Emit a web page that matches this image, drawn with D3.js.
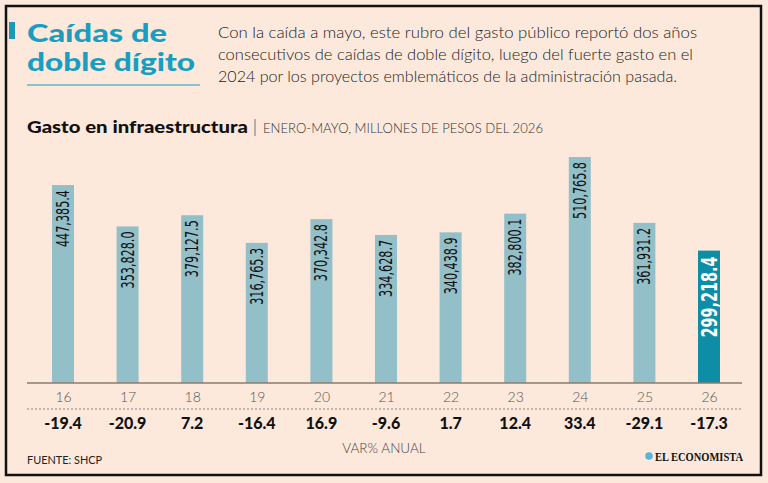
<!DOCTYPE html>
<html><head><meta charset="utf-8">
<script src="https://cdn.jsdelivr.net/npm/d3@7"></script>
<style>
html,body{margin:0;padding:0;background:#fce9dc;}
svg{display:block;}
</style></head>
<body>
<script>
const years = ["16","17","18","19","20","21","22","23","24","25","26"];
const values = [447385.4, 353828.0, 379127.5, 316765.3, 370342.8, 334628.7, 340438.9, 382800.1, 510765.8, 361931.2, 299218.4];
const varAnual = ["-19.4","-20.9","7.2","-16.4","16.9","-9.6","1.7","12.4","33.4","-29.1","-17.3"];
const subtitleLines = [
  "Con la caída a mayo, este rubro del gasto público reportó dos años",
  "consecutivos de caídas de doble dígito, luego del fuerte gasto en el",
  "2024 por los proyectos emblemáticos de la administración pasada."
];

const W = 768, H = 483;
const svg = d3.select("body").append("svg").attr("width", W).attr("height", H);
svg.append("rect").attr("width", W).attr("height", H).attr("fill", "#fce9dc");
svg.append("rect").attr("x", 6).attr("y", 6).attr("width", 755).attr("height", 469)
  .attr("fill", "#fce9dc").attr("stroke", "#111").attr("stroke-width", 2.5);

// Title
svg.append("rect").attr("x", 9).attr("y", 22).attr("width", 6).attr("height", 17).attr("fill", "#1a9ab8");
const tFont = "'Lato','Open Sans',sans-serif";
svg.append("text").attr("x", 27).attr("y", 42).text("Caídas de")
  .attr("font-family", tFont).attr("font-weight", 900).attr("font-size", 25).attr("fill", "#1a9ebf")
  .attr("textLength", 140).attr("lengthAdjust", "spacingAndGlyphs");
svg.append("text").attr("x", 27).attr("y", 71).text("doble dígito")
  .attr("font-family", tFont).attr("font-weight", 900).attr("font-size", 25).attr("fill", "#1a9ebf")
  .attr("textLength", 168).attr("lengthAdjust", "spacingAndGlyphs");
svg.append("line").attr("x1", 27).attr("x2", 200).attr("y1", 85).attr("y2", 85)
  .attr("stroke", "#1a9ebf").attr("stroke-width", 1);

const subLen = [479, 475, 459];
subtitleLines.forEach((s, i) => {
  svg.append("text").attr("x", 218).attr("y", 38 + i * 22).text(s)
    .attr("font-family", "'Lato','Open Sans',sans-serif").attr("font-weight", 300)
    .attr("font-size", 16.5).attr("fill", "#222")
    .attr("textLength", subLen[i]).attr("lengthAdjust", "spacingAndGlyphs");
});

// Chart title
svg.append("text").attr("x", 27).attr("y", 133).text("Gasto en infraestructura")
  .attr("font-family", tFont).attr("font-weight", 900).attr("font-size", 17).attr("fill", "#111")
  .attr("textLength", 221).attr("lengthAdjust", "spacingAndGlyphs");
svg.append("line").attr("x1", 255).attr("x2", 255).attr("y1", 119).attr("y2", 136)
  .attr("stroke", "#888").attr("stroke-width", 1.2);
svg.append("text").attr("x", 263).attr("y", 133).text("ENERO-MAYO, MILLONES DE PESOS DEL 2026")
  .attr("font-family", "'Lato','Open Sans',sans-serif").attr("font-weight", 300)
  .attr("font-size", 13).attr("fill", "#333")
  .attr("textLength", 280).attr("lengthAdjust", "spacingAndGlyphs");

// Scales
const x = d3.scalePoint().domain(years).range([63, 709]);
const barW = 22;
const y = d3.scaleLinear().domain([0, 510765.8]).range([383, 157]);

const gBars = svg.append("g");
gBars.selectAll("rect").data(values).join("rect")
  .attr("x", (d, i) => x(years[i]) - barW / 2)
  .attr("width", barW)
  .attr("y", d => y(d))
  .attr("height", d => y(0) - y(d))
  .attr("fill", (d, i) => i === values.length - 1 ? "#0e8ea6" : "#93bfc8");

const fmt = d3.format(",.1f");
gBars.selectAll("text").data(values).join("text")
  .attr("transform", (d, i) => {
    const cx = x(years[i]);
    const last = i === values.length - 1;
    return `translate(${cx + (last ? 7.5 : 6)},${y(d) + (last ? 6 : 5)}) rotate(-90)`;
  })
  .attr("text-anchor", "end")
  .attr("font-family", "'Liberation Sans Narrow','DejaVu Sans Condensed',sans-serif")
  .attr("font-stretch", "condensed")
  .attr("font-weight", (d, i) => i === values.length - 1 ? 700 : 400)
  .attr("font-size", (d, i) => i === values.length - 1 ? 21 : 17)
  .attr("fill", (d, i) => i === values.length - 1 ? "#fff" : "#111")
  .attr("textLength", (d, i) => i === values.length - 1 ? 81 : 57)
  .attr("lengthAdjust", "spacingAndGlyphs")
  .text(d => fmt(d));

// Axis
const axis = d3.axisBottom(x).tickSize(0).tickPadding(9);
const gAxis = svg.append("g").attr("transform", "translate(0,383)").call(axis);
gAxis.select(".domain").remove();
gAxis.selectAll("text").attr("font-family", "'Lato','Open Sans',sans-serif").attr("font-weight", 300)
  .attr("font-size", 14).attr("fill", "#555");
svg.append("line").attr("x1", 27).attr("x2", 742).attr("y1", 383).attr("y2", 383)
  .attr("stroke", "#8a7b70").attr("stroke-width", 1.3);
svg.append("line").attr("x1", 27).attr("x2", 742).attr("y1", 409).attr("y2", 409)
  .attr("stroke", "#888").attr("stroke-width", 1).attr("stroke-dasharray", "2,2");

svg.append("g").selectAll("text").data(varAnual).join("text")
  .attr("x", (d, i) => x(years[i]))
  .attr("y", 429)
  .attr("text-anchor", "middle")
  .attr("font-family", tFont).attr("font-weight", 900).attr("font-size", 16).attr("fill", "#111")
  .text(d => d);

svg.append("text").attr("x", 384).attr("y", 453).attr("text-anchor", "middle").text("VAR% ANUAL")
  .attr("font-family", "'Lato','Open Sans',sans-serif").attr("font-weight", 300)
  .attr("font-size", 13.5).attr("fill", "#444");
svg.append("text").attr("x", 27).attr("y", 464).text("FUENTE: SHCP")
  .attr("font-family", "'Lato','Open Sans',sans-serif").attr("font-weight", 400)
  .attr("font-size", 12).attr("fill", "#222")
  .attr("textLength", 75).attr("lengthAdjust", "spacingAndGlyphs");

// Logo
svg.append("circle").attr("cx", 649).attr("cy", 456).attr("r", 3.8).attr("fill", "#5bb3d6");
svg.append("text").attr("x", 655).attr("y", 460.5).text("EL ECONOMISTA")
  .attr("font-family", "'Liberation Serif','DejaVu Serif',serif").attr("font-weight", 700)
  .attr("font-size", 12.5).attr("fill", "#111")
  .attr("textLength", 88).attr("lengthAdjust", "spacingAndGlyphs");
</script>
</body></html>
